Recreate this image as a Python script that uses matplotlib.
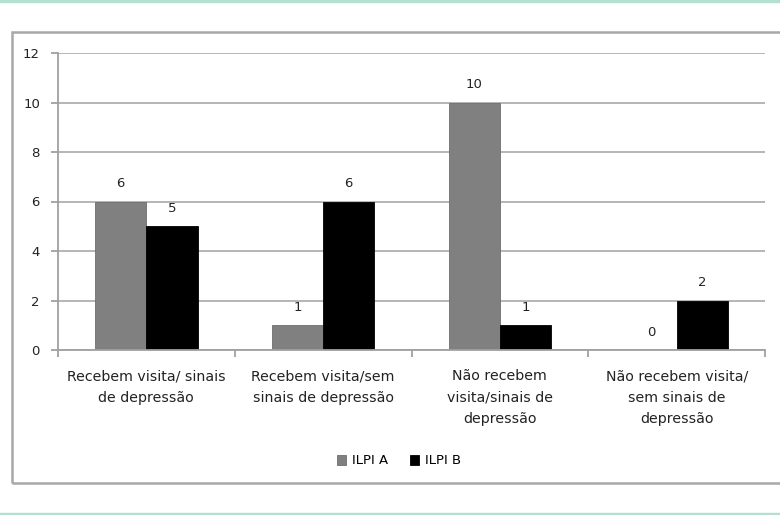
import numpy as np
import matplotlib.pyplot as plt
from matplotlib.patches import Rectangle
from matplotlib.lines import Line2D

# dados
categorias = ['Recebem visita/ sinais\nde depressão',
              'Recebem visita/sem\nsinais de depressão',
              'Não recebem\nvisita/sinais de\ndepressão',
              'Não recebem visita/\nsem sinais de\ndepressão']
ilpi_a = [6, 1, 10, 0]
ilpi_b = [5, 6, 1, 2]
series = ['ILPI A', 'ILPI B']

fig = plt.figure(figsize=(7.8, 5.15), dpi=100)

# linhas verdes de cima e de baixo
fig.add_artist(Line2D([0, 1], [0.999, 0.999], color='#b4e0d2', lw=2.5, transform=fig.transFigure))
fig.add_artist(Line2D([0, 1], [0.002, 0.002], color='#b4e0d2', lw=2.5, transform=fig.transFigure))
# moldura do grafico
fig.add_artist(Rectangle((12/780, 1-483/515), 0.99, (483-32)/515, transform=fig.transFigure,
                         fill=False, edgecolor='#a8a8a8', lw=1.8))

ax = fig.add_axes([58/780, 1-350/515, (765-58)/780, (350-53)/515])

x = np.arange(len(categorias))
w = 0.29
b1 = ax.bar(x - w/2, ilpi_a, w, color='#808080', edgecolor='#6e6e6e', lw=0.6, label=series[0])
b2 = ax.bar(x + w/2, ilpi_b, w, color='#000000', edgecolor='#000000', lw=0.6, label=series[1])

for bars, vals in [(b1, ilpi_a), (b2, ilpi_b)]:
    for r, v in zip(bars, vals):
        ax.text(r.get_x() + r.get_width()/2, v + 0.45, str(v), ha='center', va='bottom',
                fontsize=9.5, color='#222222')

ax.set_xlim(-0.5, 3.5)
ax.set_ylim(0, 12)
ax.set_yticks(range(0, 13, 2))
ax.yaxis.grid(True, color='#a9a9a9', lw=1.2)
ax.set_axisbelow(True)
for s in ['top', 'right']:
    ax.spines[s].set_visible(False)
ax.spines['left'].set_color('#a0a0a0')
ax.spines['left'].set_linewidth(1.3)
ax.spines['bottom'].set_color('#a0a0a0')
ax.spines['bottom'].set_linewidth(1.3)

ax.set_xticks(x)
ax.set_xticklabels(categorias, fontsize=10.2, color='#222222', linespacing=1.65)
ax.tick_params(axis='x', length=0, pad=14)
ax.set_xticks(np.arange(-0.5, 4, 1), minor=True)
ax.tick_params(axis='x', which='minor', length=5, color='#a0a0a0', width=1.3)
ax.tick_params(axis='y', length=5, color='#a0a0a0', width=1.3, labelsize=9.5,
               labelcolor='#222222', pad=8)

fig.legend(handles=[b1, b2], labels=series, loc='center', bbox_to_anchor=(399/780, 1-461/515),
           ncol=2, frameon=False, fontsize=9.5, handlelength=0.7, handleheight=0.7,
           handletextpad=0.45, columnspacing=1.6)

plt.savefig('out.png', dpi=100)
